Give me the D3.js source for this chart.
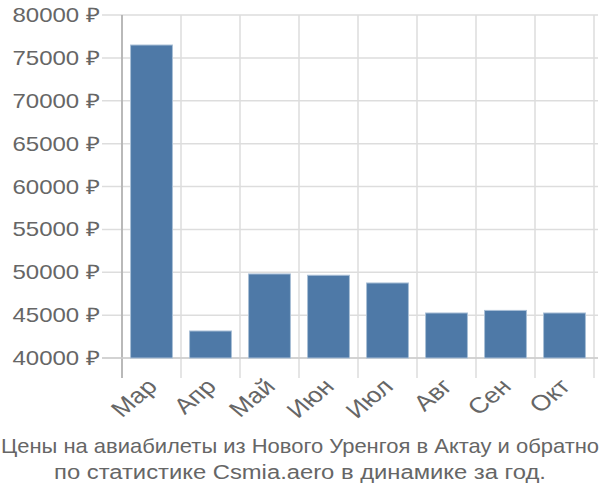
<!DOCTYPE html>
<html><head><meta charset="utf-8">
<script src="https://cdn.jsdelivr.net/npm/d3@7"></script>
<style>body{margin:0;background:#fff;} text{font-family:"Liberation Sans",Arial,sans-serif;}</style>
</head><body>
<svg id="c" width="600" height="500"></svg>
<script>
const categories = ["Мар","Апр","Май","Июн","Июл","Авг","Сен","Окт"];
const values = [76500,43150,49800,49650,48750,45250,45550,45250];
const yTicks = [40000,45000,50000,55000,60000,65000,70000,75000,80000];
const titleLines = ["Цены на авиабилеты из Нового Уренгоя в Актау и обратно","по статистике Csmia.aero в динамике за год."];

(function(){
const svg = d3.select("#c");
const mLeft = 122, mRight = 594, mTop = 15, mBottom = 358;
const sx = 1.2;
const x = d3.scaleBand().domain(categories).range([mLeft, mRight]).paddingInner(0.29).paddingOuter(0.145);
const xg = d3.scaleBand().domain(categories).range([mLeft, mRight]).padding(0);
const y = d3.scaleLinear().domain([40000, 80000]).range([mBottom, mTop]);

svg.append("g").selectAll("line").data(yTicks).join("line")
  .attr("x1", mLeft - 20).attr("x2", mRight + 4)
  .attr("y1", d => y(d)).attr("y2", d => y(d))
  .attr("stroke", "#ddd").attr("stroke-width", 1.5);
const vx = categories.map(c => xg(c)).concat([mRight]);
svg.append("g").selectAll("line").data(vx).join("line")
  .attr("x1", d => d).attr("x2", d => d)
  .attr("y1", mTop).attr("y2", mBottom + 20)
  .attr("stroke", "#ddd").attr("stroke-width", 1.5);
svg.append("line").attr("x1", mLeft).attr("x2", mLeft).attr("y1", mTop).attr("y2", mBottom + 20)
  .attr("stroke", "#aaa").attr("stroke-width", 1.5);
svg.append("line").attr("x1", mLeft - 20).attr("x2", mRight + 4).attr("y1", mBottom).attr("y2", mBottom)
  .attr("stroke", "#ccc").attr("stroke-width", 1.5);

svg.append("g").selectAll("rect").data(values).join("rect")
  .attr("x", (d, i) => x(categories[i]))
  .attr("width", x.bandwidth())
  .attr("y", d => y(d))
  .attr("height", d => y(40000) - y(d))
  .attr("fill", "#4e79a7")
  .attr("stroke", "#a9bfd6").attr("stroke-width", 1);

svg.append("g").selectAll("text").data(yTicks).join("text")
  .attr("transform", d => `translate(100,${y(d)}) scale(${sx},1)`)
  .attr("dy", "0.35em")
  .attr("text-anchor", "end").attr("fill", "#666").attr("font-size", 20)
  .text(d => d + " ₽");

svg.append("g").selectAll("text").data(categories).join("text")
  .attr("transform", d => `translate(${x(d) + x.bandwidth()/2 - 6},${mBottom + 19}) scale(${sx},1) rotate(-45)`)
  .attr("text-anchor", "end").attr("dy", "0.7em").attr("fill", "#666").attr("font-size", 22)
  .text(d => d);

const tScale = [1.098, 1.19];
svg.append("g").selectAll("text").data(titleLines).join("text")
  .attr("transform", (d, i) => `translate(300,${453 + i * 26}) scale(${tScale[i]},1)`)
  .attr("text-anchor", "middle").attr("fill", "#666").attr("font-size", 20)
  .text(d => d);
})();
</script>
</body></html>
